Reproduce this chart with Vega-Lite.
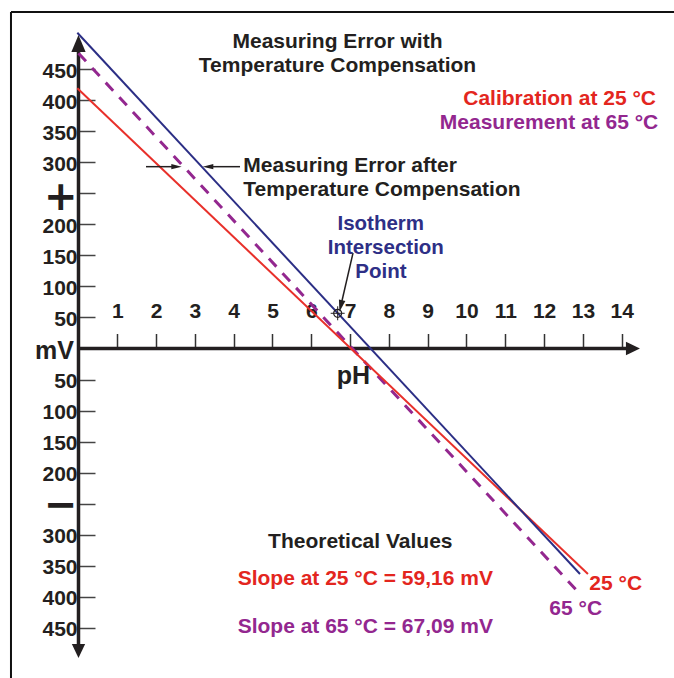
{
  "$schema": "https://vega.github.io/schema/vega-lite/v6.json",
  "width": 674,
  "height": 678,
  "padding": 0,
  "autosize": {"type": "none"},
  "background": "white",
  "config": {
    "view": {"stroke": null},
    "text": {"font": "Liberation Sans", "fontWeight": "bold", "baseline": "alphabetic", "fontSize": 21}
  },
  "encoding": {
    "x": {
      "field": "x", "type": "quantitative",
      "scale": {"domain": [-2.023, 15.348], "nice": false, "zero": false},
      "axis": {
        "orient": "top", "offset": -348.5, "title": null,
        "values": [1, 2, 3, 4, 5, 6, 7, 8, 9, 10, 11, 12, 13, 14],
        "format": "d", "domain": false, "grid": false,
        "tickSize": 15, "tickColor": "#333333", "tickWidth": 1.5,
        "labelFont": "Liberation Sans", "labelFontWeight": "bold", "labelFontSize": 21,
        "labelColor": "#231f20", "labelPadding": 16.5, "labelBaseline": "alphabetic",
        "labelOverlap": false, "labelFlush": false
      }
    },
    "y": {
      "field": "y", "type": "quantitative",
      "scale": {"domain": [-530.6, 561.2], "nice": false, "zero": false},
      "axis": {
        "orient": "left", "offset": -78.5, "title": null,
        "values": [-450, -400, -350, -300, -250, -200, -150, -100, -50, 50, 100, 150, 200, 250, 300, 350, 400, 450],
        "labelExpr": "datum.value == 250 ? '+' : datum.value == -250 ? '−' : format(abs(datum.value), 'd')",
        "domain": false, "grid": false,
        "tickSize": -16.5, "tickColor": "#444444", "tickWidth": 1.5,
        "labelFont": {"condition": {"test": "abs(datum.value) == 250", "value": "DejaVu Sans"}, "value": "Liberation Sans"},
        "labelFontWeight": "bold",
        "labelFontSize": {"condition": {"test": "abs(datum.value) == 250", "value": 40}, "value": 21},
        "labelOffset": {"condition": {"test": "datum.value == 250", "value": 4}, "value": 2},
        "labelColor": "#231f20", "labelPadding": 18, "labelAlign": "right", "labelBaseline": "middle",
        "labelOverlap": false, "labelFlush": false
      }
    }
  },
  "layer": [
    {
      "data": {"values": [
        {"x": -1.74, "y": -530.6, "x2": -1.74, "y2": 541.9},
        {"x": -1.74, "y": 541.9, "x2": 15.348, "y2": 541.9}
      ]},
      "mark": {"type": "rule", "color": "#111111", "strokeWidth": 2},
      "encoding": {"x2": {"field": "x2"}, "y2": {"field": "y2"}}
    },
    {
      "data": {"values": [
        {"x": 0, "y": -487, "x2": 0, "y2": 491},
        {"x": 0, "y": 0, "x2": 14.29, "y2": 0}
      ]},
      "mark": {"type": "rule", "color": "#231f20", "strokeWidth": 3.5},
      "encoding": {"x2": {"field": "x2"}, "y2": {"field": "y2"}}
    },
    {
      "data": {"values": [{"x": 0, "y": 475.4}, {"x": 12.95, "y": -396.9}]},
      "mark": {"type": "line", "color": "#93278f", "strokeWidth": 3, "strokeDash": [11, 9]}
    },
    {
      "data": {"values": [{"x": -0.03, "y": 419}, {"x": 13.13, "y": -363.1}]},
      "mark": {"type": "line", "color": "#e8302a", "strokeWidth": 2}
    },
    {
      "data": {"values": [{"x": -0.03, "y": 508.5}, {"x": 12.925, "y": -363.1}]},
      "mark": {"type": "line", "color": "#2b2e85", "strokeWidth": 2}
    },
    {
      "data": {"values": [{"x": 0, "y": 491.1}]},
      "mark": {"type": "point", "shape": "M0,-1L0.84,1L-0.84,1Z", "size": 289, "filled": true, "color": "#231f20", "opacity": 1}
    },
    {
      "data": {"values": [{"x": 0, "y": -487.1}]},
      "mark": {"type": "point", "shape": "M0,1L0.95,-1L-0.95,-1Z", "size": 196, "filled": true, "color": "#231f20", "opacity": 1}
    },
    {
      "data": {"values": [{"x": 14.29, "y": 0}]},
      "mark": {"type": "point", "shape": "M1,0L-1,0.95L-1,-0.95Z", "size": 196, "filled": true, "color": "#231f20", "opacity": 1}
    },
    {
      "data": {"values": [
        {"x": 7.075, "y": 153.8, "x2": 6.76, "y2": 68.4},
        {"x": 4.162, "y": 292.8, "x2": 3.34, "y2": 292.8},
        {"x": 1.74, "y": 292.8, "x2": 2.526, "y2": 292.8}
      ]},
      "mark": {"type": "rule", "color": "#231f20", "strokeWidth": 1.5},
      "encoding": {"x2": {"field": "x2"}, "y2": {"field": "y2"}}
    },
    {
      "data": {"values": [{"x": 3.338, "y": 292.8}]},
      "mark": {"type": "point", "shape": "M-1,0L1,-0.5L1,0.5Z", "size": 112, "filled": true, "color": "#231f20", "opacity": 1}
    },
    {
      "data": {"values": [{"x": 2.526, "y": 292.8}]},
      "mark": {"type": "point", "shape": "M1,0L-1,-0.5L-1,0.5Z", "size": 108, "filled": true, "color": "#231f20", "opacity": 1}
    },
    {
      "data": {"values": [{"x": 6.76, "y": 68.4}]},
      "mark": {"type": "point", "shape": "M0,1L-0.55,-1L0.55,-1Z", "size": 144, "angle": 13.3, "filled": true, "color": "#231f20", "opacity": 1}
    },
    {
      "data": {"values": [{"x": 6.68, "y": 56.7}]},
      "mark": {"type": "point", "shape": "circle", "size": 64, "filled": false, "color": "#231f20", "strokeWidth": 1.2, "opacity": 1}
    },
    {
      "data": {"values": [{"x": 6.68, "y": 56.7}]},
      "mark": {"type": "point", "shape": "M-1,0L1,0M0,-1L0,1", "size": 196, "filled": false, "color": "#231f20", "strokeWidth": 1, "opacity": 1}
    },
    {
      "data": {"values": [
        {"x": 6.675, "y": 484.4, "text": "Measuring Error with"},
        {"x": 6.675, "y": 445.7, "text": "Temperature Compensation"},
        {"x": 7.263, "y": -321.7, "text": "Theoretical Values"}
      ]},
      "mark": {"type": "text", "align": "center", "color": "#231f20"},
      "encoding": {"text": {"field": "text"}}
    },
    {
      "data": {"values": [
        {"x": 4.247, "y": 284.7, "text": "Measuring Error after"},
        {"x": 4.247, "y": 245.6, "text": "Temperature Compensation"}
      ]},
      "mark": {"type": "text", "align": "left", "color": "#231f20"},
      "encoding": {"text": {"field": "text"}}
    },
    {
      "data": {"values": [{"x": 14.884, "y": 392.1, "text": "Calibration at 25 °C"}]},
      "mark": {"type": "text", "align": "right", "color": "#e3261e"},
      "encoding": {"text": {"field": "text"}}
    },
    {
      "data": {"values": [{"x": 14.943, "y": 353.0, "text": "Measurement at 65 °C"}]},
      "mark": {"type": "text", "align": "right", "color": "#93278f"},
      "encoding": {"text": {"field": "text"}}
    },
    {
      "data": {"values": [
        {"x": 7.79, "y": 190.8, "text": "Isotherm"},
        {"x": 7.92, "y": 152.2, "text": "Intersection"},
        {"x": 7.796, "y": 113.5, "text": "Point"}
      ]},
      "mark": {"type": "text", "align": "center", "color": "#2e2f86", "fontSize": 20.5},
      "encoding": {"text": {"field": "text"}}
    },
    {
      "data": {"values": [{"x": 7.392, "y": -380.8, "text": "Slope at 25 °C = 59,16 mV"}]},
      "mark": {"type": "text", "align": "center", "color": "#e3261e"},
      "encoding": {"text": {"field": "text"}}
    },
    {
      "data": {"values": [{"x": 7.392, "y": -458.6, "text": "Slope at 65 °C = 67,09 mV"}]},
      "mark": {"type": "text", "align": "center", "color": "#93278f"},
      "encoding": {"text": {"field": "text"}}
    },
    {
      "data": {"values": [{"x": 13.165, "y": -389.4, "text": "25 °C"}]},
      "mark": {"type": "text", "align": "left", "color": "#e3261e", "fontSize": 21},
      "encoding": {"text": {"field": "text"}}
    },
    {
      "data": {"values": [{"x": 12.134, "y": -429.6, "text": "65 °C"}]},
      "mark": {"type": "text", "align": "left", "color": "#93278f", "fontSize": 21},
      "encoding": {"text": {"field": "text"}}
    },
    {
      "data": {"values": [{"x": -0.116, "y": -17.7, "text": "mV"}]},
      "mark": {"type": "text", "align": "right", "color": "#231f20", "fontSize": 25},
      "encoding": {"text": {"field": "text"}}
    },
    {
      "data": {"values": [{"x": 7.088, "y": -56.7, "text": "pH"}]},
      "mark": {"type": "text", "align": "center", "color": "#231f20", "fontSize": 25},
      "encoding": {"text": {"field": "text"}}
    }
  ]
}
